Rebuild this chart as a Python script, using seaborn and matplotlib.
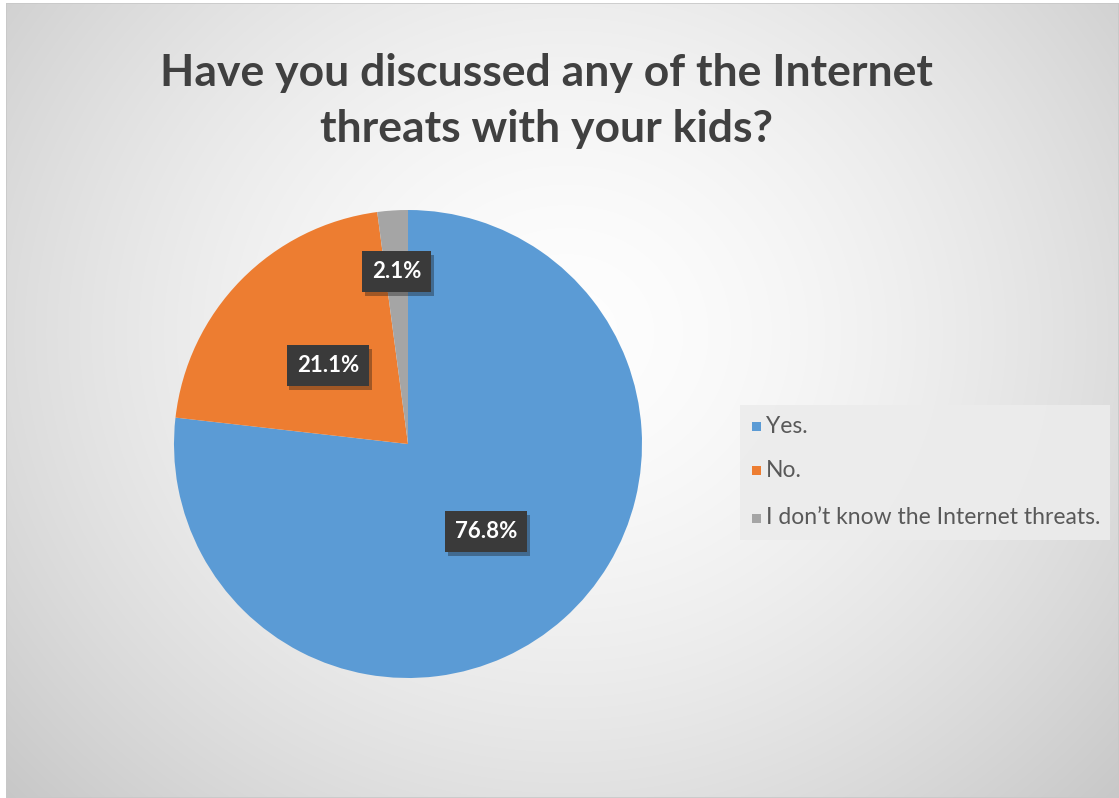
import numpy as np
import matplotlib
matplotlib.use("Agg")
import matplotlib.pyplot as plt
import matplotlib.patheffects as pe
from matplotlib.patches import Rectangle
import seaborn as sns

# Survey answers and their shares (percent)
answers = ["Yes.", "No.", "I don\u2019t know the Internet threats."]
shares = [76.8, 21.1, 2.1]
colors = ["#5B9BD5", "#ED7D31", "#A5A5A5"]
title = "Have you discussed any of the Internet\nthreats with your kids?"
label_dist = [0.50, 0.48, 0.74]

sns.set_theme(style="white")
plt.rcParams["font.family"] = ["Lato", "DejaVu Sans"]

W, H = 1119, 798
fig = plt.figure(figsize=(W / 100, H / 100), dpi=100)
fig.patch.set_facecolor("white")

# Radial grey gradient behind the chart area
bg = fig.add_axes([6 / W, 0, (W - 6) / W, (H - 3) / H])
bg.set_axis_off()
yy, xx = np.mgrid[0:H - 3, 0:W - 6]
cx, cy = 560, 330
r = np.sqrt(((xx - cx) / 620) ** 2 + ((yy - cy) / 560) ** 2)
val = 0.995 - 0.235 * np.clip(r, 0, 1.3) ** 1.6 / 1.3 ** 1.6
img = np.dstack([val, val, val])
bg.imshow(img, aspect="auto", interpolation="bilinear", extent=[0, 1, 0, 1])
bg.add_patch(Rectangle((0, 0), 1, 1, transform=bg.transAxes, fill=False,
                       edgecolor="#c8c8c8", lw=1.2))
bg.set_xlim(0, 1)
bg.set_ylim(0, 1)

fig.text(546 / W, 1 - 101 / H, title, ha="center", va="center",
         fontsize=32, fontweight="bold", color="#404040", linespacing=1.5)

# Pie
cxp, cyp, rad = 408, 354, 234
ax = fig.add_axes([(cxp - rad) / W, (cyp - rad) / H, 2 * rad / W, 2 * rad / H])
wedges, _ = ax.pie(shares, colors=colors, startangle=90, counterclock=False,
                   wedgeprops=dict(linewidth=0))
ax.set_xlim(-1, 1)
ax.set_ylim(-1, 1)
ax.set_aspect("equal")
ax.set_axis_off()

for w, s, d in zip(wedges, shares, label_dist):
    mid = np.deg2rad((w.theta1 + w.theta2) / 2)
    t = ax.text(d * np.cos(mid), d * np.sin(mid), f"{s:.1f}%", ha="center",
                va="center", fontsize=16, fontweight="bold", color="white",
                bbox=dict(boxstyle="square,pad=0.45", fc="#3a3a3a", ec="none"))
    t.get_bbox_patch().set_path_effects(
        [pe.SimplePatchShadow(offset=(2, -3), alpha=0.35), pe.Normal()])

# Legend
lax = fig.add_axes([740 / W, 1 - 540 / H, 370 / W, 135 / H])
lax.set_axis_off()
lax.add_patch(Rectangle((0, 0), 1, 1, transform=lax.transAxes,
                        fc="#ececec", ec="none", alpha=0.9))
ys = [1 - 22 / 135, 1 - 66 / 135, 1 - 113 / 135]
for name, c, y in zip(answers, colors, ys):
    lax.add_patch(Rectangle((12 / 370, y - 4.5 / 135), 9 / 370, 9 / 135,
                            transform=lax.transAxes, fc=c, ec="none"))
    lax.text(26 / 370, y, name, transform=lax.transAxes, ha="left",
             va="center", fontsize=16.5, color="#595959")

fig.savefig("out.png", dpi=100)
